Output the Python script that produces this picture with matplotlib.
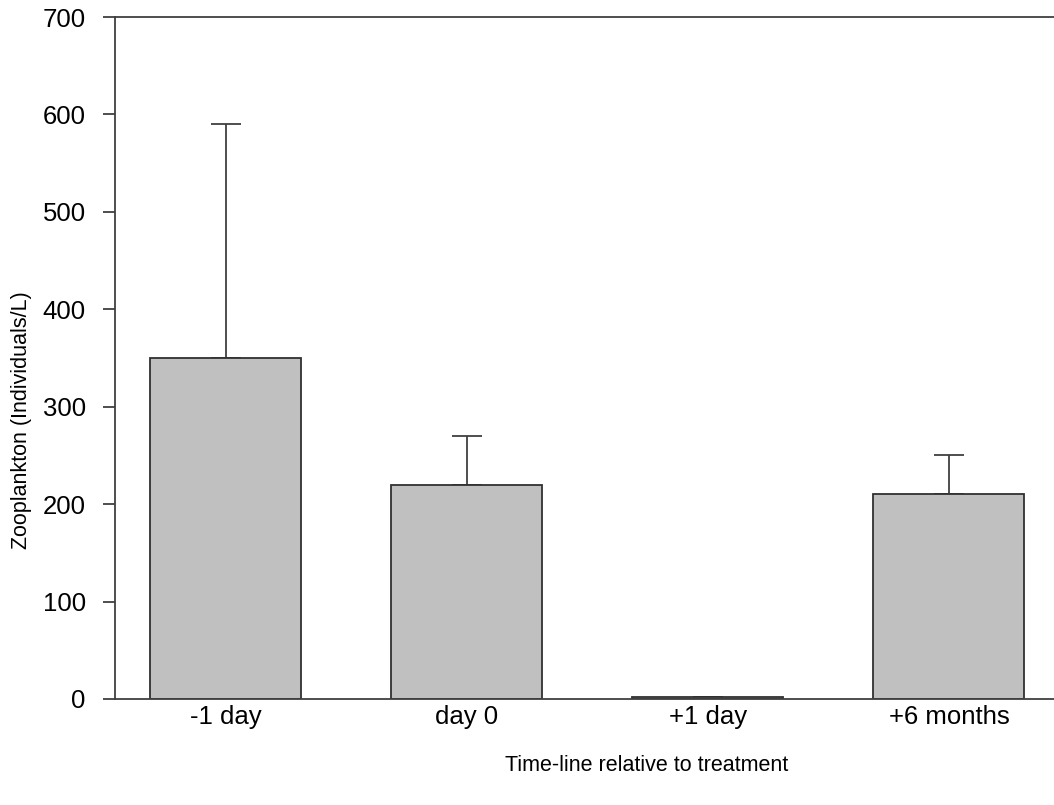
import matplotlib.pyplot as plt
import numpy as np

plt.rcParams['font.family'] = ['Liberation Sans', 'DejaVu Sans']

labels = ['-1 day', 'day 0', '+1 day', '+6 months']
means = [350, 220, 2, 210]
errs = [240, 50, 0, 40]

x = np.arange(len(labels))

W, H = 1054, 805
fig = plt.figure(figsize=(W / 100, H / 100), dpi=100)
ax = fig.add_axes([115/W, 1-699/H, 1-115/W, (699-17)/H])

ax.bar(x, means, width=0.627, color='#c0c0c0', edgecolor='#303030', linewidth=1.3, zorder=2)
ax.errorbar(x, means, yerr=[np.zeros(len(errs)), errs], fmt='none', ecolor='#404040',
            elinewidth=1.3, capsize=10.5, capthick=1.3, zorder=1)

ax.set_xlim(-0.46, 3.436)
ax.set_ylim(0, 700)
ax.set_yticks(np.arange(0, 701, 100))
ax.set_xticks(x)
ax.set_xticklabels(labels)
ax.tick_params(axis='x', length=0, pad=4, labelsize=18.5)
ax.tick_params(axis='y', length=9, width=1.3, color='#404040', pad=12, labelsize=18.5)

ax.spines['right'].set_visible(False)
for s in ['left', 'top', 'bottom']:
    ax.spines[s].set_color('#404040')
    ax.spines[s].set_linewidth(1.3)

# axis titles placed like the original (not centred on the visible axis)
fig.text(647/W, 1-765/H, 'Time-line relative to treatment', fontsize=15.5,
         ha='center', va='center')
fig.text(22/W, 1-420/H, 'Zooplankton (Individuals/L)', fontsize=15.5,
         ha='center', va='center', rotation=90)

fig.savefig('out.png', dpi=100)
